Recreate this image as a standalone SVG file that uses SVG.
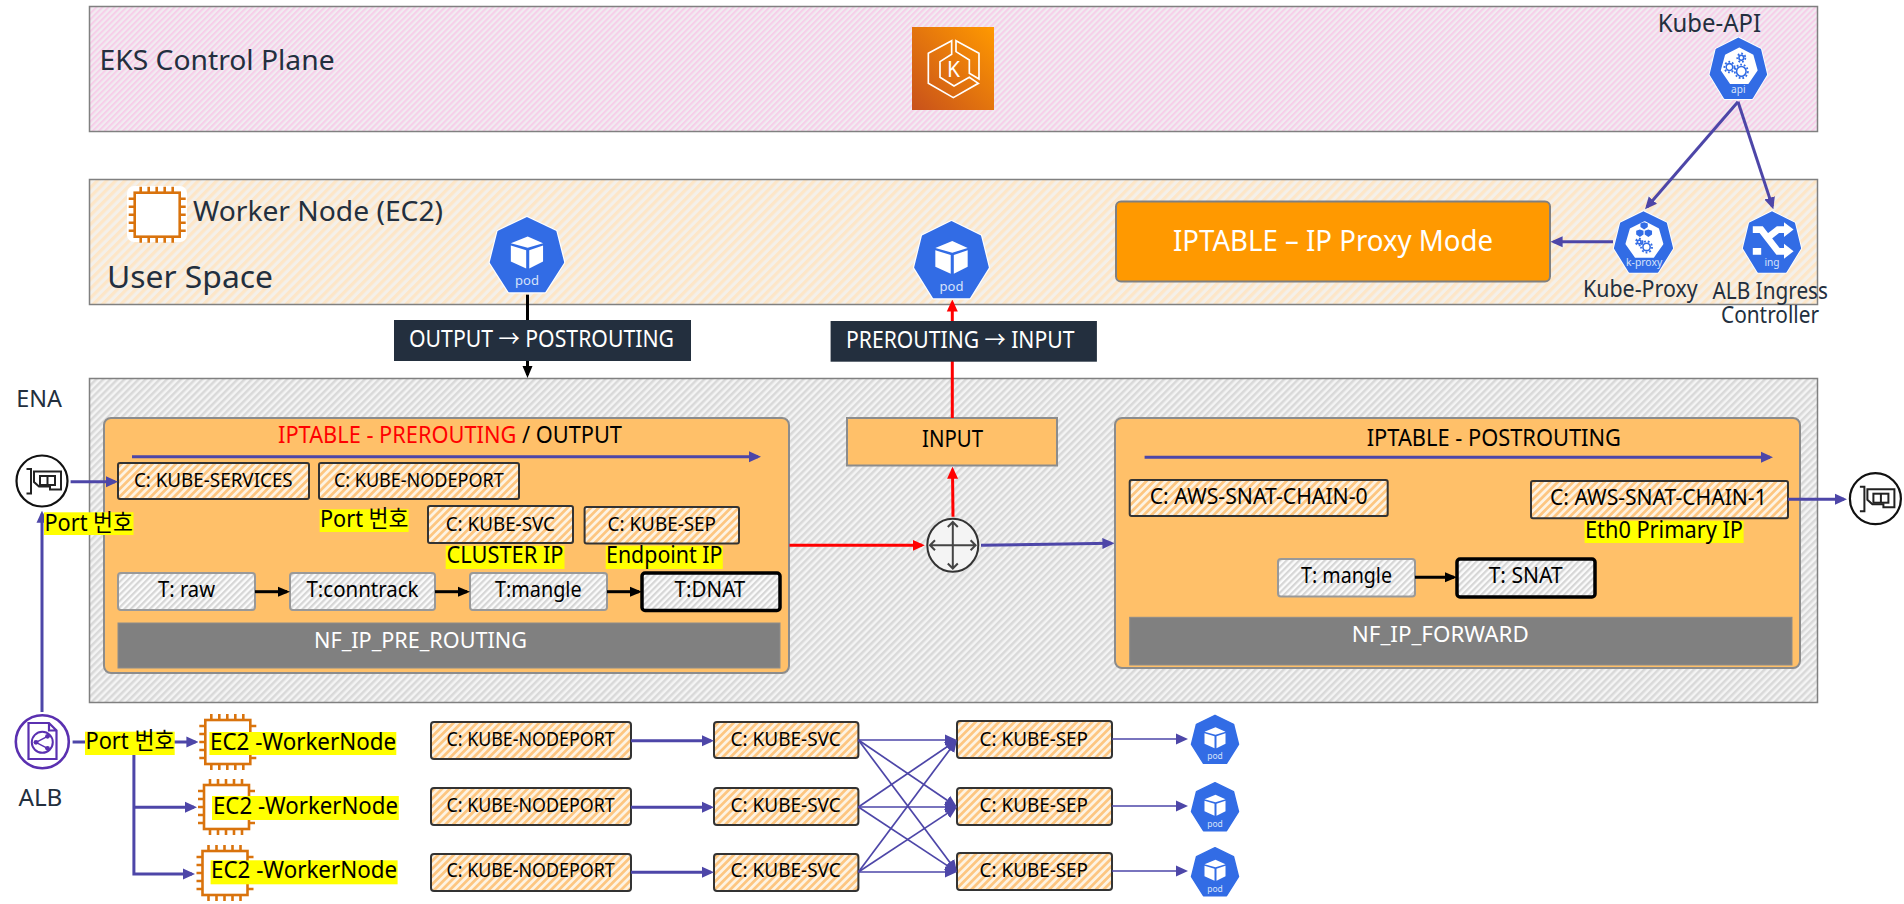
<svg xmlns="http://www.w3.org/2000/svg" width="1904" height="904" viewBox="0 0 1904 904">
<style>
text{font-family:"Noto Sans","Noto Sans CJK KR",sans-serif;fill:#000}
.dk{fill:#232f3e}
.wh{fill:#fff}
.panel{stroke:#808080;stroke-width:1.5}
.box{fill:#ffc069;stroke:#8c8c8c;stroke-width:2}
.chain{fill:url(#hO);stroke:#333;stroke-width:2}
.tb{fill:url(#hT);stroke:#999;stroke-width:2}
.tk{fill:url(#hT);stroke:#000;stroke-width:3.5}
.bar{fill:#808080;stroke:#8c8c8c;stroke-width:1}
.hl{fill:#ffff00}
.pu{stroke:#4d46a8;stroke-width:3;fill:none}
.put{stroke:#4d46a8;stroke-width:1.7;fill:none}
.bk{stroke:#000;stroke-width:3;fill:none}
.rd{stroke:#f00;stroke-width:3;fill:none}
.chip{fill:none;stroke:#d9730d;stroke-width:2.6}
.nic{fill:#fff;stroke:#111;stroke-width:2.2}
.nicg{fill:none;stroke:#222;stroke-width:2}
.rt{fill:none;stroke:#444;stroke-width:2}
.podt{fill:#d6e2fa;font-size:17px;text-anchor:middle}
.gear{fill:none;stroke:#326ce5;stroke-width:3;stroke-dasharray:3 3.2}
.gear2{fill:none;stroke:#326ce5;stroke-width:2.6}
</style>
<defs>
<pattern id="hP" width="4.25" height="4.25" patternUnits="userSpaceOnUse" patternTransform="rotate(45)"><rect width="4.25" height="4.25" fill="#f1ecf1"/><rect width="2.1" height="4.25" fill="#f6cfe9"/></pattern>
<pattern id="hW" width="6.5" height="6.5" patternUnits="userSpaceOnUse" patternTransform="rotate(45)"><rect width="6.5" height="6.5" fill="#f4f0ea"/><rect width="3.25" height="6.5" fill="#fde6c8"/></pattern>
<pattern id="hG" width="5" height="5" patternUnits="userSpaceOnUse" patternTransform="rotate(45)"><rect width="5" height="5" fill="#f4f4f4"/><rect width="2.5" height="5" fill="#d9d9d9"/></pattern>
<pattern id="hO" width="5.5" height="5.5" patternUnits="userSpaceOnUse" patternTransform="rotate(45)"><rect width="5.5" height="5.5" fill="#fdf3e3"/><rect width="2.75" height="5.5" fill="#fdc681"/></pattern>
<pattern id="hT" width="4.5" height="4.5" patternUnits="userSpaceOnUse" patternTransform="rotate(45)"><rect width="4.5" height="4.5" fill="#fbfbfb"/><rect width="2.2" height="4.5" fill="#d6d6d6"/></pattern>
<linearGradient id="eks" x1="0" y1="1" x2="1" y2="0"><stop offset="0" stop-color="#c8511b"/><stop offset="1" stop-color="#ff9900"/></linearGradient>
<marker id="mP" markerUnits="userSpaceOnUse" markerWidth="12" markerHeight="12" refX="9" refY="6" orient="auto"><path d="M0 .5L12 6L0 11.5Z" fill="#4d46a8"/></marker>
<marker id="mB" markerUnits="userSpaceOnUse" markerWidth="12" markerHeight="12" refX="9" refY="6" orient="auto"><path d="M0 1L12 6L0 11Z" fill="#000"/></marker>
<marker id="mR" markerUnits="userSpaceOnUse" markerWidth="12" markerHeight="12" refX="9" refY="6" orient="auto"><path d="M0 .5L12 6L0 11.5Z" fill="#f00"/></marker>
<g id="hept"><path d="M50 2L87 20L97 60L73 98H27L3 60L13 20Z" fill="#fff" stroke="#fff" stroke-width="6" stroke-linejoin="round"/><path d="M50 2L87 20L97 60L73 98H27L3 60L13 20Z" fill="#326ce5" stroke="#326ce5" stroke-width="3" stroke-linejoin="round"/></g>
<g id="cube"><path d="M51 26L71 35L51 41L29 35Z M29 38L49 44V68L29 59Z M53 44L71 38V59L53 68Z" fill="#fff"/></g>
<g id="inner"><path d="M52 18L74 29L81 53L66 74H37L22 53L29 29Z" fill="#fff" stroke="#fff" stroke-width="3" stroke-linejoin="round"/></g>
<g id="chip"><rect x="0" y="0" width="45" height="44"/><path d="M6 -6V0M14 -6V0M22 -6V0M30 -6V0M38 -6V0M6 44V50M14 44V50M22 44V50M30 44V50M38 44V50M-6 6H0M-6 14H0M-6 22H0M-6 30H0M-6 38H0M45 6H51M45 14H51M45 22H51M45 30H51M45 38H51"/></g>
<g id="nicg"><path d="M-15.5 -12H-11V12.5H-15.5"/><path d="M-8 -9.5H19V8.5H8V5.5H-3L-8 1Z"/><rect x="-2" y="-5" width="15" height="9"/><path d="M5.5 -5V4"/></g>
</defs>

<g id="panels">
<g id="eks-control-plane"><rect class="panel" x="89.5" y="6.5" width="1728" height="125" fill="url(#hP)"/>
<text x="99.6" y="70" font-size="27" textLength="235" lengthAdjust="spacingAndGlyphs" class="dk">EKS Control Plane</text></g>
<g id="worker-node"><rect class="panel" x="89.5" y="179.5" width="1728" height="125" fill="url(#hW)"/>
<text x="193" y="221" font-size="27" textLength="250" lengthAdjust="spacingAndGlyphs" class="dk">Worker Node (EC2)</text>
<text x="107" y="288" font-size="30" textLength="166" lengthAdjust="spacingAndGlyphs" class="dk">User Space</text></g>
<g id="kernel-space"><rect class="panel" x="89.5" y="378.5" width="1728" height="324" fill="url(#hG)"/></g>
</g>

<g id="eks-icon"><rect x="912" y="27" width="82" height="83" fill="url(#eks)"/>
<g transform="translate(880,0) scale(.3333)" fill="none" stroke="#fff" stroke-width="5"><path d="M215 122L145 160V250L220 293L295 250L268 232L222 258L180 232V185L215 163Z"/><path d="M228 122L297 160V237L268 220V180L228 155Z"/></g>
<text x="953.5" y="77" font-size="21" text-anchor="middle" class="wh">K</text></g>

<g id="worker-ec2-icon"><rect x="127" y="186" width="60" height="56" rx="7" fill="#fff"/><use href="#chip" x="134.7" y="192.7" class="chip"/></g>

<g id="iptable-proxy"><rect x="1116" y="201.5" width="434" height="80" rx="5" fill="#ff9900" stroke="#808080" stroke-width="2"/>
<text x="1173" y="251" font-size="29" textLength="320" lengthAdjust="spacingAndGlyphs" class="wh">IPTABLE – IP Proxy Mode</text></g>

<g id="prerouting"><rect class="box" x="104" y="418" width="685" height="255" rx="7"/>
<text x="278" y="443" font-size="23" textLength="344" lengthAdjust="spacingAndGlyphs"><tspan fill="#f00">IPTABLE - PREROUTING</tspan> / OUTPUT</text></g>
<g id="kube-services"><rect class="chain" x="118" y="463" width="191" height="36" rx="2"/><text x="133.9" y="486.7" font-size="19.5" textLength="158.8" lengthAdjust="spacingAndGlyphs">C: KUBE-SERVICES</text></g>
<g id="kube-nodeport"><rect class="chain" x="319" y="463" width="200" height="36" rx="2"/><text x="333.9" y="486.7" font-size="19.5" textLength="169.8" lengthAdjust="spacingAndGlyphs">C: KUBE-NODEPORT</text></g>
<g id="kube-svc"><rect class="chain" x="428" y="506" width="145" height="37" rx="2"/><text x="445.7" y="530.7" font-size="19.5" textLength="109.3" lengthAdjust="spacingAndGlyphs">C: KUBE-SVC</text></g>
<g id="kube-sep"><rect class="chain" x="584.6" y="507" width="154.4" height="36.5" rx="2"/><text x="607.5" y="530.7" font-size="19.5" textLength="108.5" lengthAdjust="spacingAndGlyphs">C: KUBE-SEP</text></g>
<g id="t-raw"><rect class="tb" x="118" y="573" width="137" height="37" rx="3"/><text x="158" y="597.3" font-size="21" textLength="57" lengthAdjust="spacingAndGlyphs">T: raw</text></g>
<g id="t-conntrack"><rect class="tb" x="290" y="573" width="145" height="37" rx="3"/><text x="306.5" y="597.3" font-size="21" textLength="112" lengthAdjust="spacingAndGlyphs">T:conntrack</text></g>
<g id="t-mangle"><rect class="tb" x="470" y="573" width="137" height="37" rx="3"/><text x="495" y="597.3" font-size="21" textLength="86.6" lengthAdjust="spacingAndGlyphs">T:mangle</text></g>
<g id="t-dnat"><rect class="tk" x="642" y="573" width="138" height="37.5" rx="3"/><text x="674.6" y="597.3" font-size="21" textLength="70.7" lengthAdjust="spacingAndGlyphs">T:DNAT</text></g>
<g id="nf-pre"><rect class="bar" x="118" y="623" width="662" height="45"/><text x="314" y="648.3" font-size="22" textLength="213" lengthAdjust="spacingAndGlyphs" class="wh">NF_IP_PRE_ROUTING</text></g>

<g id="input"><rect class="box" x="847" y="418" width="210" height="47.5"/><text x="922" y="447.3" font-size="23" textLength="61" lengthAdjust="spacingAndGlyphs">INPUT</text></g>

<g id="postrouting"><rect class="box" x="1115" y="418" width="685" height="250" rx="7"/>
<text x="1366.7" y="446" font-size="23" textLength="254.3" lengthAdjust="spacingAndGlyphs">IPTABLE - POSTROUTING</text></g>
<g id="snat-chain-0"><rect class="chain" x="1129.7" y="480" width="258" height="36" rx="2"/><text x="1149.7" y="504" font-size="21" textLength="218" lengthAdjust="spacingAndGlyphs">C: AWS-SNAT-CHAIN-0</text></g>
<g id="snat-chain-1"><rect class="chain" x="1531" y="481" width="257" height="37.3" rx="2"/><text x="1550" y="505" font-size="21" textLength="216.7" lengthAdjust="spacingAndGlyphs">C: AWS-SNAT-CHAIN-1</text></g>
<g id="t-mangle-2"><rect class="tb" x="1278" y="559" width="137" height="37.5" rx="3"/><text x="1301" y="583.3" font-size="21" textLength="91" lengthAdjust="spacingAndGlyphs">T: mangle</text></g>
<g id="t-snat"><rect class="tk" x="1457" y="559" width="138" height="38" rx="3"/><text x="1488.7" y="583.3" font-size="21" textLength="73.9" lengthAdjust="spacingAndGlyphs">T: SNAT</text></g>
<g id="nf-forward"><rect class="bar" x="1129.7" y="617.3" width="662.3" height="47.7"/><text x="1351.8" y="641.7" font-size="22" textLength="176.9" lengthAdjust="spacingAndGlyphs" class="wh">NF_IP_FORWARD</text></g>

<g id="np-1"><rect class="chain" x="431" y="722" width="200" height="37" rx="3"/><text x="446.5" y="746" font-size="19.5" textLength="168.2" lengthAdjust="spacingAndGlyphs">C: KUBE-NODEPORT</text></g>
<g id="np-2"><rect class="chain" x="431" y="788" width="200" height="37" rx="3"/><text x="446.5" y="811.7" font-size="19.5" textLength="168.2" lengthAdjust="spacingAndGlyphs">C: KUBE-NODEPORT</text></g>
<g id="np-3"><rect class="chain" x="431" y="854" width="200" height="37" rx="3"/><text x="446.5" y="876.7" font-size="19.5" textLength="168.2" lengthAdjust="spacingAndGlyphs">C: KUBE-NODEPORT</text></g>
<g id="svc-1"><rect class="chain" x="714" y="722" width="144.4" height="36" rx="3"/><text x="730.6" y="745.7" font-size="19.5" textLength="110.2" lengthAdjust="spacingAndGlyphs">C: KUBE-SVC</text></g>
<g id="svc-2"><rect class="chain" x="714" y="788" width="144.4" height="37" rx="3"/><text x="730.6" y="812" font-size="19.5" textLength="110.2" lengthAdjust="spacingAndGlyphs">C: KUBE-SVC</text></g>
<g id="svc-3"><rect class="chain" x="714" y="854" width="144.4" height="37" rx="3"/><text x="730.6" y="877" font-size="19.5" textLength="110.2" lengthAdjust="spacingAndGlyphs">C: KUBE-SVC</text></g>
<g id="sep-1"><rect class="chain" x="957" y="721" width="155" height="37" rx="3"/><text x="979.6" y="745.7" font-size="19.5" textLength="108.4" lengthAdjust="spacingAndGlyphs">C: KUBE-SEP</text></g>
<g id="sep-2"><rect class="chain" x="957" y="788" width="155" height="37" rx="3"/><text x="979.6" y="812" font-size="19.5" textLength="108.4" lengthAdjust="spacingAndGlyphs">C: KUBE-SEP</text></g>
<g id="sep-3"><rect class="chain" x="957" y="853" width="155" height="37" rx="3"/><text x="979.6" y="877" font-size="19.5" textLength="108.4" lengthAdjust="spacingAndGlyphs">C: KUBE-SEP</text></g>

<g id="ec2-1"><use href="#chip" x="205.3" y="720" class="chip"/></g>
<g id="ec2-2"><use href="#chip" x="204" y="785" class="chip"/></g>
<g id="ec2-3"><use href="#chip" x="202.5" y="851" class="chip"/></g>

<g id="connectors">
<path class="bk" d="M527.5 294.7V375" marker-end="url(#mB)"/>
<path class="rd" d="M952.3 418V302.5" marker-end="url(#mR)"/>
<path class="pu" d="M1738 101.7L1647 207" marker-end="url(#mP)"/>
<path class="pu" d="M1738 101.7L1772.4 206.4" marker-end="url(#mP)"/>
<path class="pu" d="M1613 241.7H1553.6" marker-end="url(#mP)"/>
<path class="pu" d="M132 456.7H758" marker-end="url(#mP)"/>
<path class="pu" d="M1144.6 457.3H1770" marker-end="url(#mP)"/>
<path class="pu" d="M70.6 481.7H115" marker-end="url(#mP)"/>
<path class="pu" d="M42 712V513.7" marker-end="url(#mP)"/>
<path class="bk" d="M255 591.7H287" marker-end="url(#mB)"/>
<path class="bk" d="M435 591.7H467" marker-end="url(#mB)"/>
<path class="bk" d="M607 591.7H639" marker-end="url(#mB)"/>
<path class="bk" d="M1415 577.3H1454" marker-end="url(#mB)"/>
<path class="rd" d="M789.4 545.3H921.8" marker-end="url(#mR)"/>
<path class="rd" d="M953 516.7L952.5 469.7" marker-end="url(#mR)"/>
<path class="pu" d="M981 545.3L1111.4 543.3" marker-end="url(#mP)"/>
<path class="pu" d="M1788 499.3H1844" marker-end="url(#mP)"/>
<path class="pu" d="M72.6 742H195.4" marker-end="url(#mP)"/>
<path class="pu" d="M133.9 755V874H192" marker-end="url(#mP)"/>
<path class="pu" d="M133.9 807.3H194" marker-end="url(#mP)"/>
<path class="pu" d="M631 740.7H711" marker-end="url(#mP)"/>
<path class="pu" d="M631 807.3H711" marker-end="url(#mP)"/>
<path class="pu" d="M631 872.3H711" marker-end="url(#mP)"/>
<path class="put" d="M858.4 740H954" marker-end="url(#mP)"/>
<path class="put" d="M858.4 740L954.5 805.3" marker-end="url(#mP)"/>
<path class="put" d="M858.4 740L955.2 869.6" marker-end="url(#mP)"/>
<path class="put" d="M858.4 807L954.5 741.7" marker-end="url(#mP)"/>
<path class="put" d="M858.4 807H954" marker-end="url(#mP)"/>
<path class="put" d="M858.4 807L954.5 870.4" marker-end="url(#mP)"/>
<path class="put" d="M858.4 872L955.2 742.4" marker-end="url(#mP)"/>
<path class="put" d="M858.4 872L954.5 808.6" marker-end="url(#mP)"/>
<path class="put" d="M858.4 872H954" marker-end="url(#mP)"/>
<path class="put" d="M1112 739H1185" marker-end="url(#mP)"/>
<path class="put" d="M1112 806H1185" marker-end="url(#mP)"/>
<path class="put" d="M1112 871H1185" marker-end="url(#mP)"/>
</g>

<g id="label-output"><rect x="394" y="320" width="297" height="41" fill="#232f3e"/><text x="409" y="347.3" font-size="23" textLength="265" lengthAdjust="spacingAndGlyphs" class="wh">OUTPUT → POSTROUTING</text></g>
<g id="label-prerouting"><rect x="830.6" y="321" width="266.3" height="40.7" fill="#232f3e"/><text x="846" y="348.3" font-size="23" textLength="228.4" lengthAdjust="spacingAndGlyphs" class="wh">PREROUTING → INPUT</text></g>

<g id="pod-out"><g transform="translate(488.6,216.7) scale(.767,.76)"><use href="#hept"/><use href="#cube"/><text x="50" y="90" class="podt">pod</text></g></g>
<g id="pod-in"><g transform="translate(913,220.7) scale(.77,.78)"><use href="#hept"/><use href="#cube"/><text x="50" y="90" class="podt">pod</text></g></g>
<g id="pod-1"><g transform="translate(1190,714.3) scale(.5)"><use href="#hept"/><use href="#cube"/><text x="50" y="90" class="podt">pod</text></g></g>
<g id="pod-2"><g transform="translate(1190,781.7) scale(.5)"><use href="#hept"/><use href="#cube"/><text x="50" y="90" class="podt">pod</text></g></g>
<g id="pod-3"><g transform="translate(1190,846.7) scale(.5)"><use href="#hept"/><use href="#cube"/><text x="50" y="90" class="podt">pod</text></g></g>

<g id="kube-api"><text x="1657.8" y="31.7" font-size="25" textLength="103.2" lengthAdjust="spacingAndGlyphs" class="dk">Kube-API</text>
<g transform="translate(1708.7,37.3) scale(.593,.62)"><use href="#hept"/><use href="#inner"/>
<circle class="gear2" cx="35" cy="48" r="5.5"/><circle class="gear" cx="35" cy="48" r="8.5"/><circle class="gear2" cx="55" cy="33" r="4"/><circle class="gear" cx="55" cy="33" r="6.8"/><circle class="gear2" cx="55" cy="55" r="8"/><circle class="gear" cx="55" cy="55" r="11"/><text x="50" y="90" class="podt">api</text></g></g>
<g id="kube-proxy"><g transform="translate(1613,211) scale(.61,.62)"><use href="#hept"/><use href="#inner"/>
<path d="M45 20L51 18L57 20V26L51 30L45 26Z M38 32L44 30L50 32V38L44 42L38 38Z M52 32L58 30L64 32V38L58 42L52 38Z" fill="#326ce5"/>
<circle class="gear2" cx="43" cy="50" r="3"/><circle class="gear" cx="43" cy="50" r="5.5"/><circle class="gear2" cx="55" cy="58" r="6"/><circle class="gear" cx="55" cy="58" r="9"/><text x="51" y="89" class="podt">k-proxy</text></g>
<text x="1583" y="297.3" font-size="23" textLength="114.6" lengthAdjust="spacingAndGlyphs" class="dk">Kube-Proxy</text></g>
<g id="alb-ingress"><g transform="translate(1742,211) scale(.6,.62)"><use href="#hept"/>
<path d="M18 30H32L60 65H72M18 65H32M40 45L60 30H72" fill="none" stroke="#fff" stroke-width="11"/><path d="M70 53L86 65L70 77Z M70 18L86 30L70 42Z" fill="#fff"/><text x="50" y="88" class="podt">ing</text></g>
<text x="1712.6" y="299" font-size="23" textLength="115.4" lengthAdjust="spacingAndGlyphs" class="dk">ALB Ingress</text>
<text x="1721" y="322.7" font-size="23" textLength="98" lengthAdjust="spacingAndGlyphs" class="dk">Controller</text></g>

<g id="ena-left"><text x="16.3" y="407.3" font-size="24" textLength="45.7" lengthAdjust="spacingAndGlyphs" class="dk">ENA</text>
<ellipse class="nic" cx="42" cy="481" rx="25.5" ry="25.5"/><use href="#nicg" x="42" y="481" class="nicg"/></g>
<g id="ena-right"><ellipse class="nic" cx="1875.4" cy="498.7" rx="25.5" ry="25.5"/><use href="#nicg" x="1875.4" y="498.7" class="nicg"/></g>

<g id="router"><ellipse cx="952.8" cy="545.3" rx="25.5" ry="26.5" fill="#f4f4f4" stroke="#333" stroke-width="2"/>
<path class="rt" d="M930 545.3H975.6M952.8 522V568.5M935 540.3L930 545.3L935 550.3M970.6 540.3L975.6 545.3L970.6 550.3M947.8 527L952.8 522L957.8 527M947.8 563.5L952.8 568.5L957.8 563.5"/></g>

<g id="alb"><circle cx="42.3" cy="741.7" r="26.5" fill="#fff" stroke="#5a30b0" stroke-width="2.6"/>
<path d="M28.5 723H49L56.5 730.5V759H28.5Z M49 723V730.5H56.5" fill="none" stroke="#5a30b0" stroke-width="2.2"/>
<circle cx="42.3" cy="742.3" r="10.5" fill="none" stroke="#5a30b0" stroke-width="2"/>
<path d="M36 742.3L47.5 736.3M36 742.3L47.5 748.3" stroke="#5a30b0" stroke-width="1.5"/><circle cx="36" cy="742.3" r="2.4" fill="#5a30b0"/><circle cx="47.5" cy="736.3" r="2.4" fill="#5a30b0"/><circle cx="47.5" cy="748.3" r="2.4" fill="#5a30b0"/>
<text x="18.4" y="806" font-size="24" textLength="44" lengthAdjust="spacingAndGlyphs" class="dk">ALB</text></g>

<g id="hl-port-1"><rect class="hl" x="44" y="512.3" width="89.5" height="22.7"/><text x="44.5" y="530.7" font-size="23.5" textLength="88.5" lengthAdjust="spacingAndGlyphs">Port 번호</text></g>
<g id="hl-port-2"><rect class="hl" x="319.6" y="509.3" width="89" height="22.7"/><text x="320" y="527" font-size="23.5" textLength="88.5" lengthAdjust="spacingAndGlyphs">Port 번호</text></g>
<g id="hl-cluster"><rect class="hl" x="445.7" y="545.7" width="118.8" height="23.3"/><text x="446.5" y="563" font-size="23.5" textLength="117" lengthAdjust="spacingAndGlyphs">CLUSTER IP</text></g>
<g id="hl-endpoint"><rect class="hl" x="605.7" y="545.7" width="117.1" height="23.3"/><text x="606" y="563" font-size="23.5" textLength="116.5" lengthAdjust="spacingAndGlyphs">Endpoint IP</text></g>
<g id="hl-eth0"><rect class="hl" x="1584.6" y="520.7" width="159" height="22.3"/><text x="1585" y="537.7" font-size="23" textLength="158" lengthAdjust="spacingAndGlyphs">Eth0 Primary IP</text></g>
<g id="hl-port-3"><rect class="hl" x="85" y="731.7" width="89.7" height="23.3"/><text x="85.5" y="749" font-size="23.5" textLength="89" lengthAdjust="spacingAndGlyphs">Port 번호</text></g>
<g id="hl-ec2-1"><rect class="hl" x="209.4" y="732" width="186.9" height="23"/><text x="210" y="750" font-size="23.5" textLength="186" lengthAdjust="spacingAndGlyphs">EC2 -WorkerNode</text></g>
<g id="hl-ec2-2"><rect class="hl" x="212" y="796" width="186.8" height="24"/><text x="213" y="814" font-size="23.5" textLength="185" lengthAdjust="spacingAndGlyphs">EC2 -WorkerNode</text></g>
<g id="hl-ec2-3"><rect class="hl" x="210.6" y="860.3" width="187" height="24"/><text x="211" y="878.3" font-size="23.5" textLength="186" lengthAdjust="spacingAndGlyphs">EC2 -WorkerNode</text></g>
</svg>
